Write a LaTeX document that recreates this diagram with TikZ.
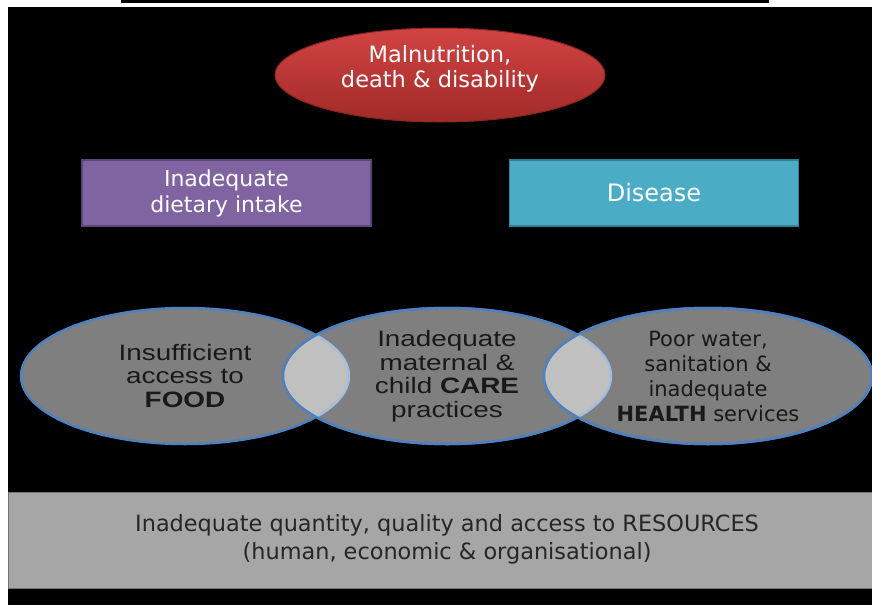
\documentclass[tikz,border=0pt]{standalone}
\usepackage{fontspec}
\setmainfont{DejaVu Sans}
\newfontfamily\arialwide[FakeStretch=1.25]{Liberation Sans}
\usetikzlibrary{shapes.geometric}
\definecolor{malred}{RGB}{210,68,66}
\definecolor{malreddark}{RGB}{160,42,40}
\definecolor{malredline}{RGB}{140,36,34}
\definecolor{dietpurple}{RGB}{128,100,162}
\definecolor{dietline}{RGB}{92,71,120}
\definecolor{diseaseteal}{RGB}{75,172,198}
\definecolor{diseaseline}{RGB}{47,128,150}
\definecolor{causegray}{RGB}{127,127,127}
\definecolor{causeline}{RGB}{79,129,189}
\definecolor{lensgray}{RGB}{192,192,192}
\definecolor{lensline}{RGB}{163,189,221}
\definecolor{basegray}{RGB}{166,166,166}
\definecolor{basegrayline}{RGB}{115,115,115}
\tikzset{
  topell/.style={shape=ellipse, minimum width=330pt, minimum height=94pt, inner sep=0pt,
    top color=malred, bottom color=malreddark, draw=malredline, line width=1pt},
  toptext/.style={text=white, align=center, font=\fontsize{22.5}{25}\selectfont},
  rectbox/.style={shape=rectangle, minimum width=289pt, minimum height=66pt, inner sep=0pt,
    line width=1.5pt, text=white, align=center, font=\fontsize{22}{26}\selectfont},
  causeell/.style={shape=ellipse, minimum width=328pt, minimum height=136pt, inner sep=0pt,
    fill=causegray, draw=causeline, line width=2.5pt, align=center, text=black!90},
  arialtext/.style={font=\arialwide\fontsize{22.3}{23.5}\selectfont},
  veratext/.style={font=\fontsize{21}{25}\selectfont},
  ellpath/.style={x radius=164pt, y radius=68pt}
}
\begin{document}
\begin{tikzpicture}[x=1pt,y=-1pt]
\useasboundingbox (0,0) rectangle (872,605);
\fill[white] (0,0) rectangle (872,605);
\fill[black] (121,0) rectangle (769,2.5);
\fill[black] (8,7) rectangle (872,605);

% outcome and immediate causes
\node[topell] (mal) at (440,75) {};
\node[toptext] (maltext) at ([yshift=6.5pt]mal.center) {Malnutrition,\\death \& disability};
\node[rectbox, fill=dietpurple, draw=dietline] (diet) at (226.5,193) {Inadequate\\dietary intake};
\node[rectbox, fill=diseaseteal, draw=diseaseline, font=\fontsize{24}{28}\selectfont] (disease) at (654,193) {Disease};

% underlying causes
\node[causeell, arialtext] (food) at (185,376) {Insufficient\\access to\\\textbf{FOOD}};
\node[causeell, arialtext] (care) at (447,376) {Inadequate\\maternal \&\\child \textbf{CARE}\\practices};
\node[causeell, veratext] (health) at (708,376) {Poor water,\\sanitation \&\\inadequate\\\textbf{HEALTH} services};

\begin{scope}
\clip (care.center) ellipse [ellpath];
\fill[lensgray] (food.center) ellipse [ellpath];
\draw[lensline, line width=2.5pt] (food.center) ellipse [ellpath];
\end{scope}
\draw[causeline, line width=2.5pt] (care.center) ellipse [ellpath];
\begin{scope}
\clip (health.center) ellipse [ellpath];
\fill[lensgray] (care.center) ellipse [ellpath];
\draw[lensline, line width=2.5pt] (care.center) ellipse [ellpath];
\end{scope}
\draw[causeline, line width=2.5pt] (health.center) ellipse [ellpath];

% basic causes
\node[shape=rectangle, minimum width=864pt, minimum height=96pt, inner sep=0pt,
  fill=basegray, draw=basegrayline, line width=1pt] (resources) at (440,540) {};
\node[text=black!85, align=center, font=\fontsize{22.4}{28}\selectfont] (restext) at (447,539)
  {Inadequate quantity, quality and access to RESOURCES\\(human, economic \& organisational)};
\end{tikzpicture}
\end{document}
